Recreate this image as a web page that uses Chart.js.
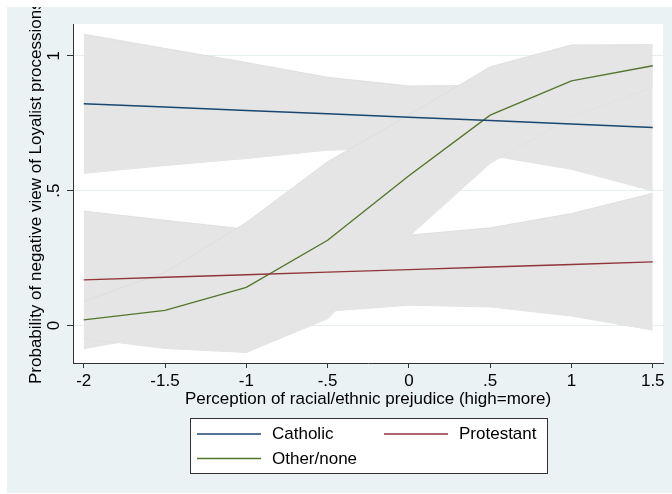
<!DOCTYPE html>
<html>
<head>
<meta charset="utf-8">
<script src="https://cdn.jsdelivr.net/npm/chart.js@4/dist/chart.umd.min.js"></script>
<style>
  html, body { margin: 0; padding: 0; background: #ffffff; }
  #wrap { width: 672px; height: 494px; position: relative; }
</style>
</head>
<body>
<div id="wrap"><canvas id="c" width="672" height="494"></canvas></div>
<script>
// Predicted probabilities with 95% confidence bands, by religion
const xValues = [-2, -1.5, -1, -0.5, 0, 0.5, 1, 1.5];
const xTickLabels = ['-2', '-1.5', '-1', '-.5', '0', '.5', '1', '1.5'];
const yTickValues = [0, 0.5, 1];
const yTickLabels = ['0', '.5', '1'];

const catholic   = [0.822, 0.810, 0.797, 0.785, 0.772, 0.760, 0.747, 0.734];
const catholicLo = [0.564, 0.593, 0.619, 0.650, 0.656, 0.630, 0.579, 0.499];
const catholicHi = [1.080, 1.027, 0.975, 0.920, 0.888, 0.890, 0.915, 0.969];

const protestant   = [0.169, 0.179, 0.188, 0.198, 0.207, 0.217, 0.226, 0.236];
const protestantLo = [-0.086, -0.032, 0.019, 0.053, 0.075, 0.069, 0.035, -0.017];
const protestantHi = [0.424, 0.390, 0.357, 0.343, 0.335, 0.362, 0.415, 0.490];

const other   = [0.021, 0.056, 0.141, 0.316, 0.555, 0.780, 0.907, 0.963];
const otherLo = [-0.048, -0.085, -0.100, 0.025, 0.330, 0.601, 0.774, 0.885];
const otherHi = [0.090, 0.197, 0.382, 0.607, 0.780, 0.959, 1.040, 1.041];

const seriesNames = ['Catholic', 'Protestant', 'Other/none'];
const seriesColors = ['#1A476F', '#90353B', '#55752F'];

const xTitle = 'Perception of racial/ethnic prejudice (high=more)';
const yTitle = 'Probability of negative view of Loyalist processions';

const FONT = '"Liberation Sans", Arial, Helvetica, sans-serif';
const BAND_FILL = '#E5E5E5';
const BAND_EDGE = '#DBDBDB';
const OUTER_BG = '#EAF2F3';

const pts = arr => xValues.map((x, i) => ({ x: x, y: arr[i] }));

const lineSet = (label, arr, color) => ({
  label: label, data: pts(arr), borderColor: color, borderWidth: 1.4,
  pointRadius: 0, fill: false, tension: 0
});
const bandSet = (arr, fillTarget) => ({
  label: '', data: pts(arr), borderColor: BAND_EDGE, borderWidth: 0.8,
  backgroundColor: BAND_FILL, pointRadius: 0, fill: fillTarget, tension: 0
});

// lines listed first so they draw on top of the bands
const datasets = [
  lineSet(seriesNames[0], catholic, seriesColors[0]),
  lineSet(seriesNames[1], protestant, seriesColors[1]),
  lineSet(seriesNames[2], other, seriesColors[2]),
  bandSet(otherHi, '+1'),
  bandSet(otherLo, false),
  bandSet(protestantHi, '+1'),
  bandSet(protestantLo, false),
  bandSet(catholicHi, '+1'),
  bandSet(catholicLo, false)
];

const decor = {
  id: 'decor',
  beforeDraw(chart) {
    const ctx = chart.ctx, a = chart.chartArea;
    ctx.save();
    ctx.fillStyle = '#ffffff';
    ctx.fillRect(0, 0, chart.width, chart.height);
    ctx.fillStyle = OUTER_BG;
    ctx.fillRect(7, 7, chart.width - 7, chart.height - 8);
    ctx.fillStyle = '#ffffff';
    ctx.fillRect(a.left, a.top, a.right - a.left, a.bottom - a.top);
    ctx.restore();
  },
  afterDraw(chart) {
    const ctx = chart.ctx, a = chart.chartArea;
    const ys = chart.scales.y;
    ctx.save();
    ctx.fillStyle = '#000000';

    // rotated y tick labels
    ctx.font = '17px ' + FONT;
    ctx.textAlign = 'center';
    ctx.textBaseline = 'middle';
    yTickValues.forEach((v, i) => {
      ctx.save();
      ctx.translate(54, ys.getPixelForValue(v));
      ctx.rotate(-Math.PI / 2);
      ctx.fillText(yTickLabels[i], 0, 0);
      ctx.restore();
    });

    // axis titles
    ctx.font = '17px ' + FONT;
    ctx.fillText(xTitle, (a.left + a.right) / 2, 399);
    ctx.save();
    ctx.beginPath();
    ctx.rect(7, 7, chart.width - 7, chart.height - 8);
    ctx.clip();
    ctx.translate(36, 384);
    ctx.rotate(-Math.PI / 2);
    ctx.textAlign = 'left';
    ctx.fillText(yTitle, 0, 0);
    ctx.restore();

    // legend box
    const bx = 190, by = 418, bw = 357, bh = 55;
    ctx.fillStyle = '#ffffff';
    ctx.fillRect(bx, by, bw, bh);
    ctx.strokeStyle = '#333333';
    ctx.lineWidth = 1;
    ctx.strokeRect(bx + 0.5, by + 0.5, bw, bh);
    const items = [
      { x: 197, y: 434 }, { x: 384, y: 434 }, { x: 197, y: 458.5 }
    ];
    ctx.font = '17px ' + FONT;
    ctx.textAlign = 'left';
    ctx.textBaseline = 'middle';
    items.forEach((it, i) => {
      ctx.strokeStyle = seriesColors[i];
      ctx.lineWidth = 1.4;
      ctx.beginPath();
      ctx.moveTo(it.x, it.y);
      ctx.lineTo(it.x + 64, it.y);
      ctx.stroke();
      ctx.fillStyle = '#000000';
      ctx.fillText(seriesNames[i], it.x + 75, it.y + 0.5);
    });
    ctx.restore();
  }
};

new Chart(document.getElementById('c'), {
  type: 'line',
  data: { datasets: datasets },
  options: {
    responsive: false,
    animation: false,
    layout: { padding: { top: 24, right: 9, left: 0, bottom: 0 } },
    plugins: {
      legend: { display: false },
      tooltip: { enabled: false },
      filler: { propagate: false }
    },
    scales: {
      x: {
        type: 'linear',
        min: -2.066, max: 1.563,
        afterBuildTicks: s => { s.ticks = xValues.map(v => ({ value: v })); },
        afterFit: s => { s.height = 131; },
        ticks: {
          autoSkip: false, maxRotation: 0, minRotation: 0,
          color: '#000000', padding: 3,
          font: { family: FONT, size: 17 },
          callback: (v, i) => xTickLabels[i]
        },
        grid: { drawOnChartArea: false, drawTicks: true, tickLength: 5, tickColor: '#333333', tickWidth: 1 },
        border: { display: true, color: '#333333', width: 1 }
      },
      y: {
        type: 'linear',
        min: -0.139, max: 1.1176,
        afterBuildTicks: s => { s.ticks = yTickValues.map(v => ({ value: v })); },
        afterFit: s => { s.width = 73; },
        ticks: { display: false },
        grid: { color: '#E6EFF0', lineWidth: 1, drawTicks: true, tickLength: 6, tickColor: '#333333', tickWidth: 1 },
        border: { display: true, color: '#333333', width: 1 }
      }
    }
  },
  plugins: [decor]
});
</script>
</body>
</html>
